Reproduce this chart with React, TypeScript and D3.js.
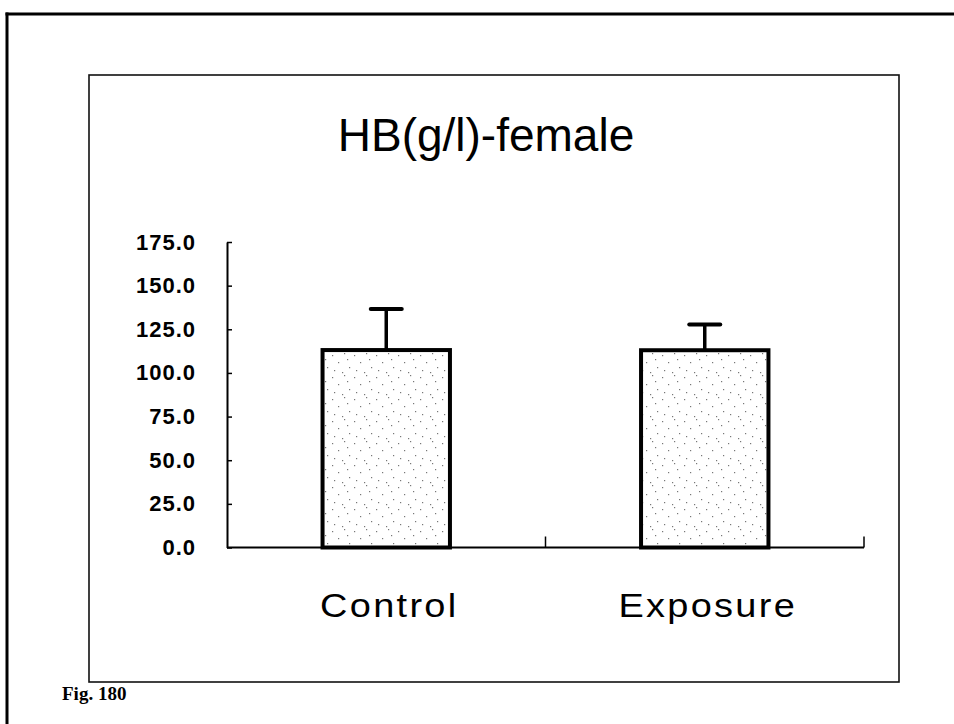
import React, { useEffect, useRef } from 'react';
import * as d3 from 'd3';

// chart data
const categories = ['Control', 'Exposure'];
const means = [113.1, 113.0];
const errors = [23.5, 14.8];
const yTicks = [0, 25, 50, 75, 100, 125, 150, 175];
const chartTitle = 'HB(g/l)-female';
const figLabel = 'Fig. 180';

const W = 954;
const H = 724;

const App: React.FC = () => {
  const svgRef = useRef<SVGSVGElement>(null);

  useEffect(() => {
    if (!svgRef.current) return;
    const svg = d3.select(svgRef.current);
    svg.selectAll('*').remove();

    // plot area
    const left = 227;
    const right = 864;
    const top = 242;
    const bottom = 547.5;

    const x = d3.scaleBand<string>()
      .domain(categories)
      .range([left, right])
      .paddingInner(0)
      .paddingOuter(0);

    const y = d3.scaleLinear()
      .domain([0, 175])
      .range([bottom, top]);

    // sparse stipple pattern for bar fill
    const defs = svg.append('defs');
    const pat = defs.append('pattern')
      .attr('id', 'stipple')
      .attr('patternUnits', 'userSpaceOnUse')
      .attr('width', 22)
      .attr('height', 22);
    pat.append('rect').attr('width', 22).attr('height', 22).attr('fill', '#fff');
    [[2, 3], [14, 1], [8, 10], [19, 15], [4, 18], [12, 20], [17, 7]].forEach(([px, py]) => {
      pat.append('rect')
        .attr('x', px).attr('y', py)
        .attr('width', 1.2).attr('height', 1.2)
        .attr('fill', '#777');
    });

    // outer page frame (top + left only)
    svg.append('line')
      .attr('x1', 5.5).attr('x2', W).attr('y1', 14).attr('y2', 14)
      .attr('stroke', '#000').attr('stroke-width', 3);
    svg.append('line')
      .attr('x1', 7).attr('x2', 7).attr('y1', 12.5).attr('y2', H)
      .attr('stroke', '#000').attr('stroke-width', 3);

    // inner chart box
    svg.append('rect')
      .attr('x', 89).attr('y', 75)
      .attr('width', 810).attr('height', 607)
      .attr('fill', 'none')
      .attr('stroke', '#111')
      .attr('stroke-width', 1.6);

    // title
    svg.append('text')
      .attr('x', 486)
      .attr('y', 151)
      .attr('text-anchor', 'middle')
      .attr('font-family', '"Liberation Sans", Arial, sans-serif')
      .attr('font-size', 46)
      .attr('fill', '#000')
      .text(chartTitle);

    // y axis
    const yAxis = svg.append('g')
      .attr('transform', `translate(${left},0)`)
      .call(d3.axisLeft(y)
        .tickValues(yTicks)
        .tickSize(-5)
        .tickSizeOuter(0)
        .tickPadding(31)
        .tickFormat(d => (d as number).toFixed(1)));
    yAxis.select('.domain').attr('stroke', '#000').attr('stroke-width', 2);
    yAxis.selectAll('.tick line').attr('stroke', '#000').attr('stroke-width', 1.5);
    yAxis.selectAll('.tick text')
      .attr('font-family', '"Liberation Sans", Arial, sans-serif')
      .attr('font-size', 22)
      .attr('font-weight', 'bold')
      .attr('letter-spacing', 1)
      .attr('fill', '#000');

    // x axis line + inward ticks at band edges
    svg.append('line')
      .attr('x1', left).attr('x2', right)
      .attr('y1', bottom).attr('y2', bottom)
      .attr('stroke', '#000').attr('stroke-width', 2);
    const edges = categories.map(c => (x(c) || 0) + x.bandwidth());
    svg.selectAll('.xtick')
      .data(edges)
      .enter()
      .append('line')
      .attr('class', 'xtick')
      .attr('x1', d => d).attr('x2', d => d)
      .attr('y1', bottom).attr('y2', bottom - 11)
      .attr('stroke', '#000').attr('stroke-width', 1.5);

    const barW = x.bandwidth() * 0.4;
    const cx = (c: string) => (x(c) || 0) + x.bandwidth() / 2;

    // error bars (upper only)
    const eb = svg.selectAll('.err')
      .data(categories)
      .enter()
      .append('g')
      .attr('class', 'err');
    eb.append('line')
      .attr('x1', c => cx(c)).attr('x2', c => cx(c))
      .attr('y1', (_, i) => y(means[i]))
      .attr('y2', (_, i) => y(means[i] + errors[i]))
      .attr('stroke', '#000').attr('stroke-width', 3.5);
    eb.append('line')
      .attr('x1', c => cx(c) - 15.5).attr('x2', c => cx(c) + 15.5)
      .attr('y1', (_, i) => y(means[i] + errors[i]))
      .attr('y2', (_, i) => y(means[i] + errors[i]))
      .attr('stroke', '#000').attr('stroke-width', 4)
      .attr('stroke-linecap', 'round');

    // bars
    svg.selectAll('.bar')
      .data(categories)
      .enter()
      .append('rect')
      .attr('class', 'bar')
      .attr('x', c => cx(c) - barW / 2)
      .attr('width', barW)
      .attr('y', (_, i) => y(means[i]))
      .attr('height', (_, i) => y(0) - y(means[i]))
      .attr('fill', 'url(#stipple)')
      .attr('stroke', '#000')
      .attr('stroke-width', 4);

    // category labels (slightly widened gothic look)
    svg.selectAll('.cat')
      .data(categories)
      .enter()
      .append('text')
      .attr('class', 'cat')
      .attr('transform', c => `translate(${cx(c) + 3},617) scale(1.15,1)`)
      .attr('text-anchor', 'middle')
      .attr('font-family', '"Liberation Sans", Arial, sans-serif')
      .attr('font-size', 33)
      .attr('letter-spacing', 2)
      .attr('fill', '#000')
      .text(c => c);

    // figure caption
    svg.append('text')
      .attr('x', 62)
      .attr('y', 700)
      .attr('font-family', '"Liberation Serif", "Times New Roman", serif')
      .attr('font-size', 19)
      .attr('font-weight', 'bold')
      .attr('fill', '#000')
      .text(figLabel);
  }, []);

  return (
    <svg
      ref={svgRef}
      width={W}
      height={H}
      style={{ position: 'absolute', left: 0, top: 0, background: '#fff' }}
    />
  );
};

export default App;
